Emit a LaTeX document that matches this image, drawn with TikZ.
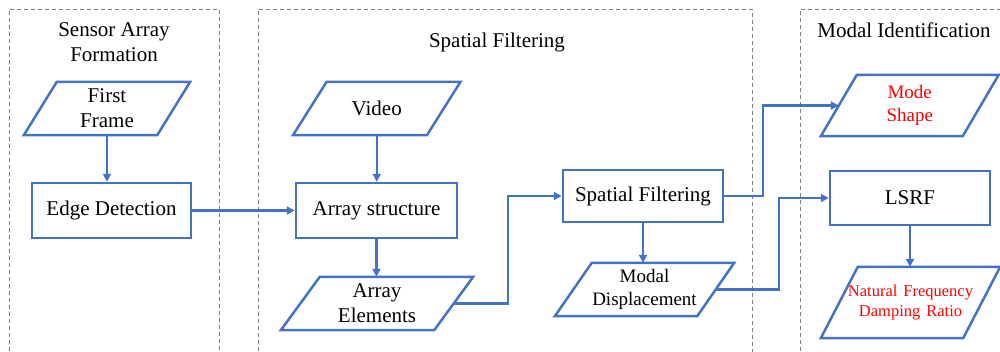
\documentclass[tikz,border=0pt]{standalone}
\usepackage{fontspec}
\setmainfont{Liberation Serif}
\usetikzlibrary{arrows.meta,calc}
\definecolor{oblue}{HTML}{4472C4}
\definecolor{dgray}{HTML}{7F7F7F}
\definecolor{ored}{HTML}{FF0000}
\tikzset{
  stage/.style={draw=dgray, line width=1pt, dash pattern=on 4pt off 3pt},
  stagetitle/.style={font=\fontsize{21}{25}\selectfont, align=center, inner sep=0pt},
  procbox/.style={draw=oblue, line width=2.5pt, inner sep=0pt, font=\fontsize{21}{25}\selectfont, align=center},
  paratext/.style={inner sep=0pt, align=center, font=\fontsize{21}{25}\selectfont},
  parashape/.style={draw=oblue, line width=2.5pt, line join=miter},
  redtext/.style={text=ored},
  flow/.style={draw=oblue, line width=2.2pt, -{Triangle[length=8pt,width=8pt]}}
}
\newcommand\paranode[7]{%
  \node[paratext, minimum width=#4pt, minimum height=#5pt, #7] (#1) at (#2,#3) {};
  \draw[parashape] ([xshift=-#6pt]#1.south west) -- ([xshift=-#6pt]#1.south east)
     -- ([xshift=#6pt]#1.north east) -- ([xshift=#6pt]#1.north west) -- cycle;
}
\begin{document}
\begin{tikzpicture}[x=1pt,y=-1pt]
\useasboundingbox (0,0) rectangle (1000,351);
\clip (0,0) rectangle (1000,351);
% stage frames
\draw[stage] (9,400) -- (9,9) -- (219,9) -- (219,400);
\draw[stage] (258,400) -- (258,9) -- (752,9) -- (752,400);
\draw[stage] (800,400) -- (800,9) -- (1050,9);
\node[stagetitle] (t1) at (114,42) {Sensor Array\\Formation};
\node[stagetitle] (t2) at (497,42) {Spatial Filtering};
\node[stagetitle] (t3) at (904,30) {Modal Identification};
% parallelograms
\paranode{ff}{107}{108.5}{133}{53}{16.5}{label={[paratext]center:First\\Frame}}
\paranode{vid}{376.75}{108.5}{133.5}{53}{16.8}{label={[paratext]center:Video}}
\paranode{ae}{377}{303.5}{153}{53}{19.5}{label={[paratext]center:Array\\Elements}}
\paranode{md}{644.5}{289.5}{142}{53}{18.5}{label={[paratext,font=\fontsize{19}{23}\selectfont]center:Modal\\Displacement}}
\paranode{ms}{909.75}{105.5}{141.5}{61}{18}{label={[paratext,redtext,font=\fontsize{19}{23}\selectfont]center:Mode\\Shape}}
\paranode{nf}{910.5}{302.5}{142}{71}{18.5}{label={[paratext,redtext,font=\fontsize{16.5}{20}\selectfont]center:Natural\hspace{6pt}Frequency\\Damping\hspace{6pt}Ratio}}
% rectangles
\node[procbox, minimum width=159pt, minimum height=55pt] (ed) at (111.5,210.5) {Edge Detection};
\node[procbox, minimum width=161pt, minimum height=55pt] (as) at (376.5,210.5) {Array structure};
\node[procbox, minimum width=160pt, minimum height=52pt] (sf) at (643,196) {Spatial Filtering};
\node[procbox, minimum width=160pt, minimum height=54pt] (ls) at (910,198) {LSRF};
% connectors
\draw[flow] (ff.south) -- (ff.south |- ed.north);
\draw[flow] (ed.east) -- (as.west);
\draw[flow] (vid.south) -- (vid.south |- as.north);
\draw[flow] (as.south) -- (as.south |- ae.north);
\draw[flow] (ae.east) -- ++(54.5,0) |- (sf.west);
\draw[flow] (sf.south) -- (sf.south |- md.north);
\draw[flow] (sf.east) -- ++(39,0) |- (ms.west);
\draw[flow] (md.east) -- ++(63.5,0) |- (ls.west);
\draw[flow] (ls.south) -- (ls.south |- nf.north);
\end{tikzpicture}
\end{document}
